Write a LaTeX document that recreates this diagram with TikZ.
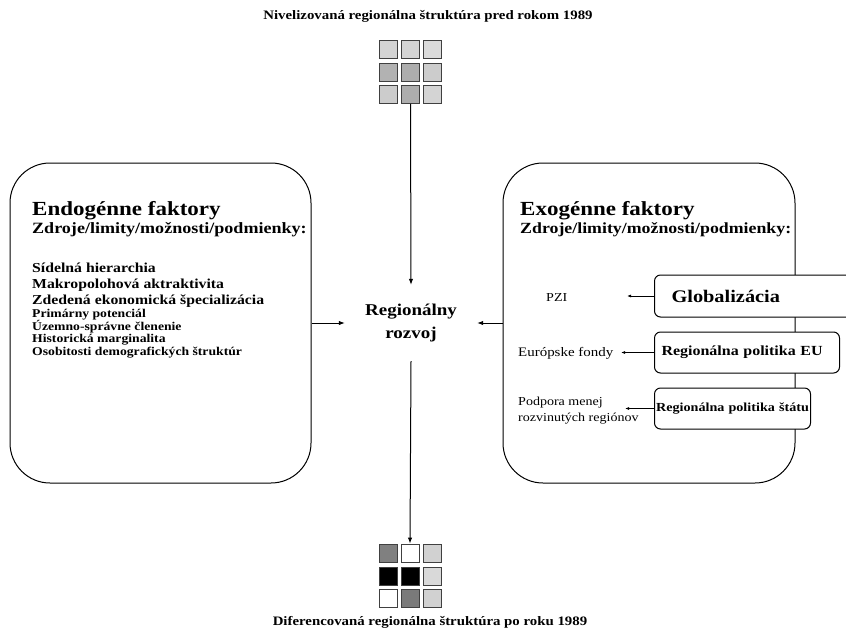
\documentclass[tikz,border=0pt]{standalone}
\usepackage{fontspec}
\setmainfont{Liberation Serif}[FakeStretch=1.15]
\usetikzlibrary{arrows.meta}
\begin{document}
\begin{tikzpicture}[x=1pt,y=-1pt,
  bigbox/.style={draw, line width=1pt, rounded corners=40pt, inner sep=0},
  smallbox/.style={draw, fill=white, line width=1pt, rounded corners=6pt, anchor=west, inner ysep=0pt, font=\bfseries},
  cell/.style={draw=black!75, line width=0.9pt, minimum size=18pt, inner sep=0},
  txt/.style={inner sep=0, anchor=base west, font=\bfseries},
  plain/.style={inner sep=0, anchor=west, font=\fontsize{12.2}{16}\selectfont, align=left},
  conn/.style={line width=1pt, -{Latex[length=6pt,width=4.5pt]}},
  thin/.style={line width=0.8pt, -{Latex[length=4pt,width=3pt]}},
]
\useasboundingbox (0,0) rectangle (846,633);
\clip (0,0) rectangle (846,633);
\fill[white] (0,0) rectangle (846,633);

% titles
\node[font=\bfseries\fontsize{12.9}{15}\selectfont, inner sep=0] (toptitle) at (428,16) {Nivelizovaná regionálna štruktúra pred rokom 1989};
\node[font=\bfseries\fontsize{12.9}{15}\selectfont, inner sep=0] (bottitle) at (430,622) {Diferencovaná regionálna štruktúra po roku 1989};

% regional structure before 1989
\node[cell, fill=black!17] (a11) at (388.5,49.5) {};
\node[cell, fill=black!17] (a12) at (410.5,49.5) {};
\node[cell, fill=black!14] (a13) at (432.5,49.5) {};
\node[cell, fill=black!30] (a21) at (388.5,72) {};
\node[cell, fill=black!32] (a22) at (410.5,72) {};
\node[cell, fill=black!20] (a23) at (432.5,72) {};
\node[cell, fill=black!20] (a31) at (388.5,94.5) {};
\node[cell, fill=black!32] (a32) at (410.5,94.5) {};
\node[cell, fill=black!17] (a33) at (432.5,94.5) {};

% regional structure after 1989
\node[cell, fill=black!50] (b11) at (388,553) {};
\node[cell, fill=white]    (b12) at (410,553) {};
\node[cell, fill=black!18] (b13) at (432,553) {};
\node[cell, fill=black]    (b21) at (388,576) {};
\node[cell, fill=black]    (b22) at (410,576) {};
\node[cell, fill=black!15] (b23) at (432,576) {};
\node[cell, fill=white]    (b31) at (388,598) {};
\node[cell, fill=black!52] (b32) at (410,598) {};
\node[cell, fill=black!18] (b33) at (432,598) {};

% centre
\node[font=\bfseries\fontsize{16.5}{23.3}\selectfont, align=center, inner sep=0, minimum width=132pt, minimum height=76pt] (rozvoj) at (411,323) {Regionálny\\rozvoj};

% endogenous factors
\node[bigbox, minimum width=301pt, minimum height=320pt] (endo) at (160.5,323) {};
\node[txt, font=\bfseries\fontsize{20}{20}\selectfont] (endoh) at (32,215) {Endogénne faktory};
\node[txt, font=\bfseries\fontsize{15.7}{16}\selectfont] (endos) at (32,233) {Zdroje/limity/možnosti/podmienky:};
\node[txt, font=\bfseries\fontsize{13.7}{16}\selectfont] (e1) at (32,272) {Sídelná hierarchia};
\node[txt, font=\bfseries\fontsize{13.7}{16}\selectfont] (e2) at (32,288) {Makropolohová aktraktivita};
\node[txt, font=\bfseries\fontsize{13.7}{16}\selectfont] (e3) at (32,304) {Zdedená ekonomická špecializácia};
\node[txt, font=\bfseries\fontsize{11.9}{14}\selectfont] (e4) at (32,317) {Primárny potenciál};
\node[txt, font=\bfseries\fontsize{11.9}{14}\selectfont] (e5) at (32,330.5) {Územno-správne členenie};
\node[txt, font=\bfseries\fontsize{11.9}{14}\selectfont] (e6) at (32,342.5) {Historická marginalita};
\node[txt, font=\bfseries\fontsize{11.9}{14}\selectfont] (e7) at (32,355) {Osobitosti demografických štruktúr};

% exogenous factors
\node[bigbox, minimum width=292pt, minimum height=320pt] (exo) at (649,323) {};
\node[txt, font=\bfseries\fontsize{20}{20}\selectfont] (exoh) at (520,215) {Exogénne faktory};
\node[txt, font=\bfseries\fontsize{15.5}{16}\selectfont] (exos) at (520,233) {Zdroje/limity/možnosti/podmienky:};

\node[smallbox, minimum height=42pt, inner xsep=17pt, text width=182pt, align=left, font=\bfseries\fontsize{17.7}{18}\selectfont] (glob) at (654,296) {Globalizácia};
\node[smallbox, minimum height=41pt, inner xsep=7pt, text width=171pt, align=left, font=\bfseries\fontsize{13.9}{14}\selectfont] (eu) at (654,352.5) {Regionálna politika EU};
\node[smallbox, minimum height=41pt, inner xsep=1pt, text width=154pt, align=center, font=\bfseries\fontsize{12.3}{13}\selectfont] (statu) at (654,408.5) {Regionálna politika štátu};

\node[plain] (pzi) at (546,297) {PZI};
\node[plain, font=\fontsize{13}{16}\selectfont] (fondy) at (518,353) {Európske fondy};
\node[plain] (podpora) at (518,411) {Podpora menej\\rozvinutých regiónov};

% connectors
\draw[conn] (a22.south |- a32.south) -- (rozvoj.north);
\draw[conn] (rozvoj.south) -- (b12.north);
\draw[conn] (endo.east) -- (endo.east -| rozvoj.west);
\draw[conn] (exo.west) -- (exo.west -| rozvoj.east);
\draw[thin] (glob.west) -- ++(-27,0);
\draw[thin] (eu.west) -- ++(-33,0);
\draw[thin] (statu.west) -- ++(-29,0);
\end{tikzpicture}
\end{document}
